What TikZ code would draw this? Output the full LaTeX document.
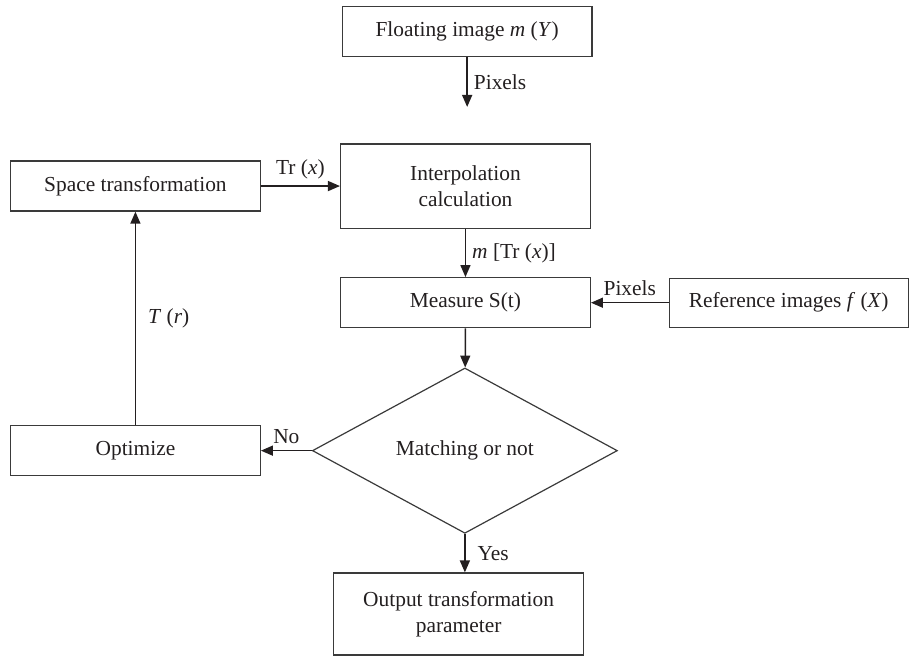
\documentclass[tikz,border=0pt]{standalone}
\usepackage{fontspec}
\setmainfont{Liberation Serif}
\usepackage{xcolor}
\usepackage{tikz}
\usetikzlibrary{arrows.meta,shapes.geometric}
\definecolor{ink}{HTML}{231F20}
\definecolor{frame}{HTML}{3A3A3A}
\tikzset{
  box/.style={draw=frame, line width=0.6pt, minimum width=4.39cm, minimum height=0.88cm, align=center, inner sep=2pt},
  dec/.style={diamond, draw=frame, line width=0.6pt, minimum width=5.36cm, minimum height=2.43cm, inner sep=1pt},
  arr/.style={draw=ink, line width=0.75pt, -{Triangle[length=6pt,width=5pt]}},
  lab/.style={text=ink, inner sep=3pt},
  every node/.style={text=ink, font=\fontsize{10.7}{12.8}\selectfont}
}

\begin{document}
\begin{tikzpicture}[scale=1.0]
  \useasboundingbox (0,0) rectangle (16.01,11.53);

  \node[box] (float) at (8.21,10.98) {Floating image \textit{m} (\textit{Y})};
  \coordinate (fend) at (8.21,9.65);
  \node[box, minimum height=1.48cm] (interp) at (8.18,8.26) {Interpolation\\calculation};
  \node[box] (space) at (2.38,8.26) {Space transformation};
  \node[box] (measure) at (8.18,6.21) {Measure S(t)};
  \node[box, minimum width=4.2cm, minimum height=0.86cm] (ref) at (13.86,6.21) {Reference images \textit{f} (\textit{X})};
  \node[dec] (match) at (8.17,3.61) {Matching or not};
  \node[box] (opt) at (2.38,3.61) {Optimize};
  \node[box, minimum height=1.44cm] (out) at (8.06,0.74) {Output transformation\\parameter};

  \draw[arr] (float.south -| fend) -- (fend) node[lab, midway, right] {Pixels};
  \draw[arr] (space) -- (interp) node[lab, midway, above] {Tr (\textit{x})};
  \draw[arr] (interp) -- (measure) node[lab, midway, right] {\textit{m} [Tr (\textit{x})]};
  \draw[arr] (ref) -- (measure) node[lab, midway, above] {Pixels};
  \draw[arr] (measure) -- (match);
  \draw[arr] (match) -- (opt) node[lab, midway, above] {No};
  \draw[arr] (opt) -- (space) node[lab, midway, right, xshift=3pt] {\textit{T} (\textit{r})};
  \draw[arr] (match.south) -- (match.south |- out.north) node[lab, midway, right, xshift=3pt] {Yes};
\end{tikzpicture}
\end{document}
